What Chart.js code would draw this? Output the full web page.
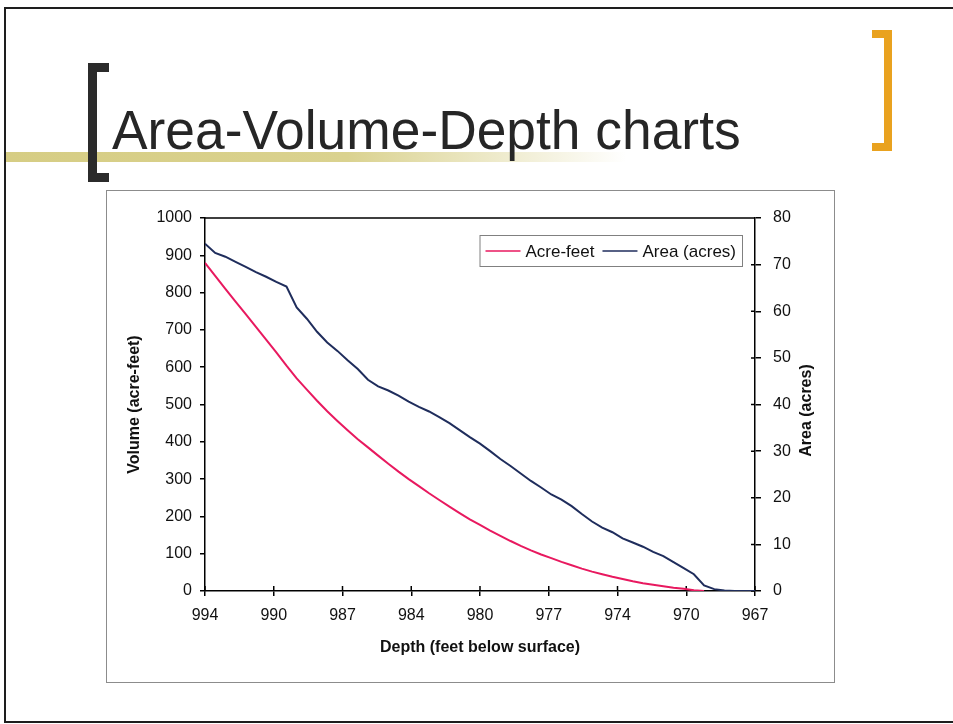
<!DOCTYPE html>
<html>
<head>
<meta charset="utf-8">
<title>Area-Volume-Depth charts</title>
<script src="https://cdn.jsdelivr.net/npm/chart.js@4.4.1/dist/chart.umd.min.js"></script>
<style>
    html, body { margin: 0; padding: 0; background: #fff; }
    body { width: 953px; height: 724px; position: relative; overflow: hidden; font-family: "Liberation Sans", Arial, sans-serif; }
    #frame { position: absolute; left: 4px; top: 7px; width: 990px; height: 716px; border: 2px solid #1e1e1e; box-sizing: border-box; }
    #band { position: absolute; left: 6px; top: 152px; width: 620px; height: 10px;
        background: linear-gradient(to right, #d6cd84 0%, #dad28f 55%, rgba(255,255,255,0) 100%); }
    #title { position: absolute; left: 112px; top: 103px; font-size: 55px; line-height: 55px; color: #262626;
        white-space: nowrap; transform: scaleX(0.97); transform-origin: left top; }
    #bracket-left { position: absolute; left: 88px; top: 63px; width: 21px; height: 119px; box-sizing: border-box;
        border-left: 9px solid #2b2b2b; border-top: 9px solid #2b2b2b; border-bottom: 9px solid #2b2b2b; }
    #bracket-right { position: absolute; left: 872px; top: 30px; width: 20px; height: 121px; box-sizing: border-box;
        border-right: 8px solid #e9a21f; border-top: 8px solid #e9a21f; border-bottom: 8px solid #e9a21f; }
    #chart-box { position: absolute; left: 106px; top: 190px; width: 729px; height: 493px; box-sizing: border-box;
        border: 1px solid #8c8c8c; background: #fff; }
    #chart-wrap { position: relative; width: 727px; height: 491px; }
</style>
</head>
<body>
<div id="frame"></div>
<div id="band"></div>
<div id="title">Area-Volume-Depth charts</div>
<div id="bracket-left"></div>
<div id="bracket-right"></div>
<div id="chart-box">
    <div id="chart-wrap"><canvas id="avd-chart"></canvas></div>
</div>

<script>
"use strict";

// depth in feet below surface
const depths = [
    994, 993.5, 993, 992.5, 992, 991.5, 991, 990.5, 990, 989.5,
    989, 988.5, 988, 987.5, 987, 986.5, 986, 985.5, 985, 984.5,
    984, 983.5, 983, 982.5, 982, 981.5, 981, 980.5, 980, 979.5,
    979, 978.5, 978, 977.5, 977, 976.5, 976, 975.5, 975, 974.5,
    974, 973.5, 973, 972.5, 972, 971.5, 971, 970.5, 970, 969.5,
    969, 968.5, 968, 967.5, 967
];

// volume (acre-feet), null where the line stops
const volume = [
    880, 845, 810, 776, 742, 708, 674, 640, 604, 570,
    540, 510, 482, 456, 431, 407, 385, 363, 341, 320,
    300, 281, 262, 244, 226, 209, 192, 177, 162, 148,
    134, 121, 109, 98, 88, 78, 69, 60, 52, 45,
    38, 32, 26, 21, 17, 13, 9, 6, 2, 0,
    null, null, null, null, null
];

// surface area (acres)
const area = [
    74.5, 72.5, 71.7, 70.6, 69.5, 68.4, 67.4, 66.3, 65.3, 60.8,
    58.4, 55.6, 53.3, 51.5, 49.5, 47.6, 45.3, 43.9, 43.0, 41.9,
    40.6, 39.5, 38.5, 37.3, 36.0, 34.5, 33.0, 31.6, 30.0, 28.3,
    26.8, 25.2, 23.6, 22.2, 20.7, 19.6, 18.2, 16.5, 14.9, 13.6,
    12.6, 11.3, 10.4, 9.5, 8.4, 7.5, 6.2, 4.9, 3.6, 1.2,
    0.4, 0.1, 0, 0, 0
];

const depthTickLabels = ["994", "990", "987", "984", "980", "977", "974", "970", "967"];

const seriesNames = ["Acre-feet", "Area (acres)"];
const seriesColors = ["#e8195f", "#1f2d5c"];

const tickFont = { family: "'Liberation Sans', Arial, sans-serif", size: 16 };
const titleFont = { family: "'Liberation Sans', Arial, sans-serif", size: 16, weight: "bold" };

const volumePoints = depths
    .map((d, i) => ({ x: d, y: volume[i] }))
    .filter(p => p.y !== null);
const areaPoints = depths.map((d, i) => ({ x: d, y: area[i] }));

const minDepth = Math.min(...depths);
const maxDepth = Math.max(...depths);

// plot frame, inner tick marks, legend and right axis title
const chartExtras = {
    id: "chartExtras",
    beforeDatasetsDraw(chart) {
        const ctx = chart.ctx;
        const ca = chart.chartArea;
        ctx.save();
        ctx.strokeStyle = "#000";
        ctx.lineWidth = 1.5;
        ctx.beginPath();
        ctx.moveTo(ca.left, ca.top);
        ctx.lineTo(ca.right, ca.top);
        chart.scales.x.ticks.forEach(t => {
            const px = chart.scales.x.getPixelForValue(t.value);
            ctx.moveTo(px, ca.bottom);
            ctx.lineTo(px, ca.bottom - 5);
        });
        chart.scales.y1.ticks.forEach(t => {
            const py = chart.scales.y1.getPixelForValue(t.value);
            ctx.moveTo(ca.right, py);
            ctx.lineTo(ca.right - 4, py);
        });
        ctx.stroke();
        ctx.restore();
    },
    afterDraw(chart) {
        const ctx = chart.ctx;
        const ca = chart.chartArea;
        ctx.save();

        // legend box inside the plot
        ctx.font = "17px 'Liberation Sans', Arial, sans-serif";
        const items = chart.data.datasets.map(ds => ({
            label: ds.label,
            color: ds.borderColor,
            w: ctx.measureText(ds.label).width
        }));
        const lineLen = 35;
        let boxW = 6;
        items.forEach((it, i) => { boxW += lineLen + 5 + it.w + (i < items.length - 1 ? 8 : 6); });
        const boxH = 31;
        const boxRight = ca.right - 13;
        const boxTop = ca.top + 17;
        const boxLeft = boxRight - boxW;
        ctx.fillStyle = "#fff";
        ctx.fillRect(boxLeft, boxTop, boxW, boxH);
        ctx.strokeStyle = "#808080";
        ctx.lineWidth = 1;
        ctx.strokeRect(boxLeft + 0.5, boxTop + 0.5, boxW, boxH);

        const cy = boxTop + boxH / 2 + 0.5;
        let x = boxLeft + 6;
        ctx.textBaseline = "middle";
        ctx.textAlign = "left";
        items.forEach(it => {
            ctx.strokeStyle = it.color;
            ctx.lineWidth = 1.5;
            ctx.beginPath();
            ctx.moveTo(x, cy);
            ctx.lineTo(x + lineLen, cy);
            ctx.stroke();
            ctx.fillStyle = "#111";
            ctx.fillText(it.label, x + lineLen + 5, cy + 1);
            x += lineLen + 5 + it.w + 8;
        });

        // right axis title reads bottom to top
        ctx.font = "bold 16px 'Liberation Sans', Arial, sans-serif";
        ctx.translate(ca.right + 52, (ca.top + ca.bottom) / 2 + 6);
        ctx.rotate(-Math.PI / 2);
        ctx.textAlign = "center";
        ctx.fillStyle = "#111";
        ctx.fillText(seriesNames[1], 0, 0);
        ctx.restore();
    }
};

new Chart(document.getElementById("avd-chart"), {
    type: "line",
    data: {
        datasets: [{
            label: seriesNames[0],
            data: volumePoints,
            yAxisID: "y",
            borderColor: seriesColors[0],
            borderWidth: 2,
            pointRadius: 0,
            tension: 0
        }, {
            label: seriesNames[1],
            data: areaPoints,
            yAxisID: "y1",
            borderColor: seriesColors[1],
            borderWidth: 2,
            pointRadius: 0,
            tension: 0
        }]
    },
    options: {
        responsive: true,
        maintainAspectRatio: false,
        animation: false,
        layout: { padding: { top: 27, left: 0, right: 0, bottom: 0 } },
        plugins: {
            legend: { display: false },
            tooltip: { enabled: false }
        },
        scales: {
            x: {
                type: "linear",
                reverse: true,
                min: minDepth,
                max: maxDepth,
                afterBuildTicks(scale) {
                    const n = depthTickLabels.length;
                    scale.ticks = depthTickLabels.map((_, i) => ({
                        value: maxDepth - i * (maxDepth - minDepth) / (n - 1)
                    }));
                },
                afterFit(scale) { scale.height = 91; },
                ticks: {
                    autoSkip: false,
                    maxRotation: 0,
                    padding: 10,
                    color: "#111",
                    font: tickFont,
                    callback: (value, index) => depthTickLabels[index]
                },
                grid: { drawOnChartArea: false, drawTicks: true, tickLength: 5, color: "#000", lineWidth: 1.5 },
                border: { display: true, color: "#000", width: 1.5 },
                title: {
                    display: true,
                    text: "Depth (feet below surface)",
                    color: "#111",
                    font: titleFont,
                    padding: { top: 0, bottom: 25 }
                }
            },
            y: {
                position: "left",
                min: 0,
                max: 1000,
                afterFit(scale) { scale.width = 98; },
                ticks: { stepSize: 100, padding: 8, color: "#111", font: tickFont, callback: value => String(value) },
                grid: { drawOnChartArea: false, drawTicks: true, tickLength: 5, color: "#000", lineWidth: 1.5 },
                border: { display: true, color: "#000", width: 1.5 },
                title: {
                    display: true,
                    text: "Volume (acre-feet)",
                    color: "#111",
                    font: titleFont,
                    padding: { top: 18, bottom: 0 }
                }
            },
            y1: {
                position: "right",
                min: 0,
                max: 80,
                afterFit(scale) { scale.width = 79; },
                ticks: { stepSize: 10, padding: 12, color: "#111", font: tickFont, callback: value => String(value) },
                grid: { drawOnChartArea: false, drawTicks: true, tickLength: 6, color: "#000", lineWidth: 1.5 },
                border: { display: true, color: "#000", width: 1.5 }
            }
        }
    },
    plugins: [chartExtras]
});
</script>
</body>
</html>
